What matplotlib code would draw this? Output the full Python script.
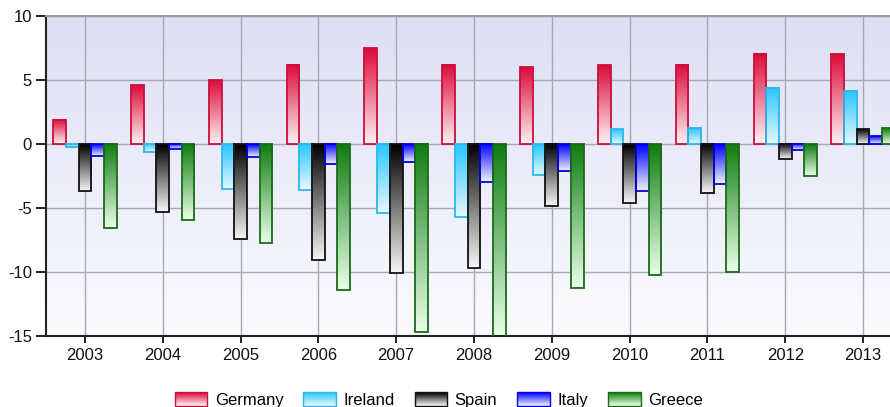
import numpy as np
import matplotlib.pyplot as plt
from matplotlib.colors import LinearSegmentedColormap
from matplotlib.patches import Rectangle
from matplotlib.legend_handler import HandlerBase

years = ['2003', '2004', '2005', '2006', '2007', '2008', '2009', '2010', '2011', '2012', '2013']
germany = [1.9, 4.6, 5.0, 6.2, 7.5, 6.2, 6.0, 6.15, 6.2, 7.05, 7.0]
ireland = [-0.2, -0.65, -3.5, -3.6, -5.4, -5.7, -2.4, 1.15, 1.25, 4.4, 4.15]
spain = [-3.65, -5.3, -7.4, -9.05, -10.05, -9.7, -4.85, -4.6, -3.85, -1.2, 1.15]
italy = [-0.9, -0.4, -1.0, -1.6, -1.4, -3.0, -2.1, -3.65, -3.1, -0.5, 0.6]
greece = [-6.6, -5.9, -7.7, -11.4, -14.7, -15.6, -11.25, -10.2, -10.0, -2.5, 1.25]

series = ['Germany', 'Ireland', 'Spain', 'Italy', 'Greece']
values = [germany, ireland, spain, italy, greece]
dark = ['#dc0a3a', '#28c6fc', '#000000', '#0000ff', '#0f7d0f']
light = ['#fff2f4', '#e6f8ff', '#f6f6f6', '#f2f2ff', '#eaffea']
edges = ['#c8103c', '#2ab8ee', '#111111', '#0000e6', '#1a6a1a']

plt.rcParams['font.family'] = ['Liberation Sans', 'DejaVu Sans']
plt.rcParams['axes.unicode_minus'] = False

fig = plt.figure(figsize=(8.9, 4.07), dpi=100)
ax = fig.add_axes([46 / 890, 71 / 407, 856 / 890, 320 / 407])

# lavender-to-white background
bg = LinearSegmentedColormap.from_list('bg', ['#fbfbfe', '#dedef5'])
ax.imshow(np.linspace(0, 1, 256).reshape(-1, 1), cmap=bg, origin='lower',
          extent=[0, 1, 0, 1], transform=ax.transAxes, aspect='auto', zorder=0)

x = np.arange(len(years))
w = 0.163
grad = np.linspace(0, 1, 128).reshape(-1, 1)
ymin, ymax = -15, 10

for i, (name, vals) in enumerate(zip(series, values)):
    cmap = LinearSegmentedColormap.from_list(name, [light[i], dark[i]])
    bars = ax.bar(x + (i - 2) * w, vals, w, facecolor='none', edgecolor=edges[i],
                  linewidth=1.3, zorder=3)
    for b in bars:
        x0, bw = b.get_x(), b.get_width()
        y0, y1 = sorted([b.get_y(), b.get_y() + b.get_height()])
        y0 = max(y0, ymin)
        ax.imshow(grad, cmap=cmap, origin='lower', extent=[x0, x0 + bw, y0, y1],
                  aspect='auto', zorder=2)

ax.set_xlim(-0.5, len(years) - 0.5)
ax.set_ylim(ymin, ymax)
ax.set_xticks(x)
ax.set_xticklabels(years)
ax.set_yticks([-15, -10, -5, 0, 5, 10])
ax.grid(True, color='#a8a8b0', linewidth=1.0, zorder=1)
ax.set_axisbelow(True)
ax.tick_params(axis='both', labelsize=12, colors='#111111', width=1.3)
ax.tick_params(axis='x', length=5, pad=4)
ax.tick_params(axis='y', length=7, pad=3)

for s in ['left', 'bottom']:
    ax.spines[s].set_color('#222222')
    ax.spines[s].set_linewidth(1.5)
ax.spines['top'].set_color('#9a9aa2')
ax.spines['top'].set_linewidth(1.5)
ax.spines['right'].set_visible(False)


class GradHandler(HandlerBase):
    def __init__(self, c_dark, c_light, ec):
        super().__init__()
        self.cmap = LinearSegmentedColormap.from_list('h', [c_light, c_dark])
        self.ec = ec

    def create_artists(self, legend, orig_handle, xd, yd, width, height, fontsize, trans):
        n = 14
        arts = []
        for k in range(n):
            arts.append(Rectangle((-xd, -yd + height * k / n), width, height / n,
                                  facecolor=self.cmap(k / (n - 1)), edgecolor='none',
                                  transform=trans))
        arts.append(Rectangle((-xd, -yd), width, height, facecolor='none',
                              edgecolor=self.ec, linewidth=1.0, transform=trans))
        return arts


handles = [Rectangle((0, 0), 1, 1) for _ in series]
hmap = {h: GradHandler(dark[i], light[i], edges[i]) for i, h in enumerate(handles)}
fig.legend(handles, series, handler_map=hmap, loc='center', bbox_to_anchor=(0.493, 0.018),
           ncol=5, frameon=False, fontsize=12, handlelength=1.95, handleheight=0.9,
           handletextpad=0.45, columnspacing=1.2)

fig.savefig('out.png', dpi=100)
